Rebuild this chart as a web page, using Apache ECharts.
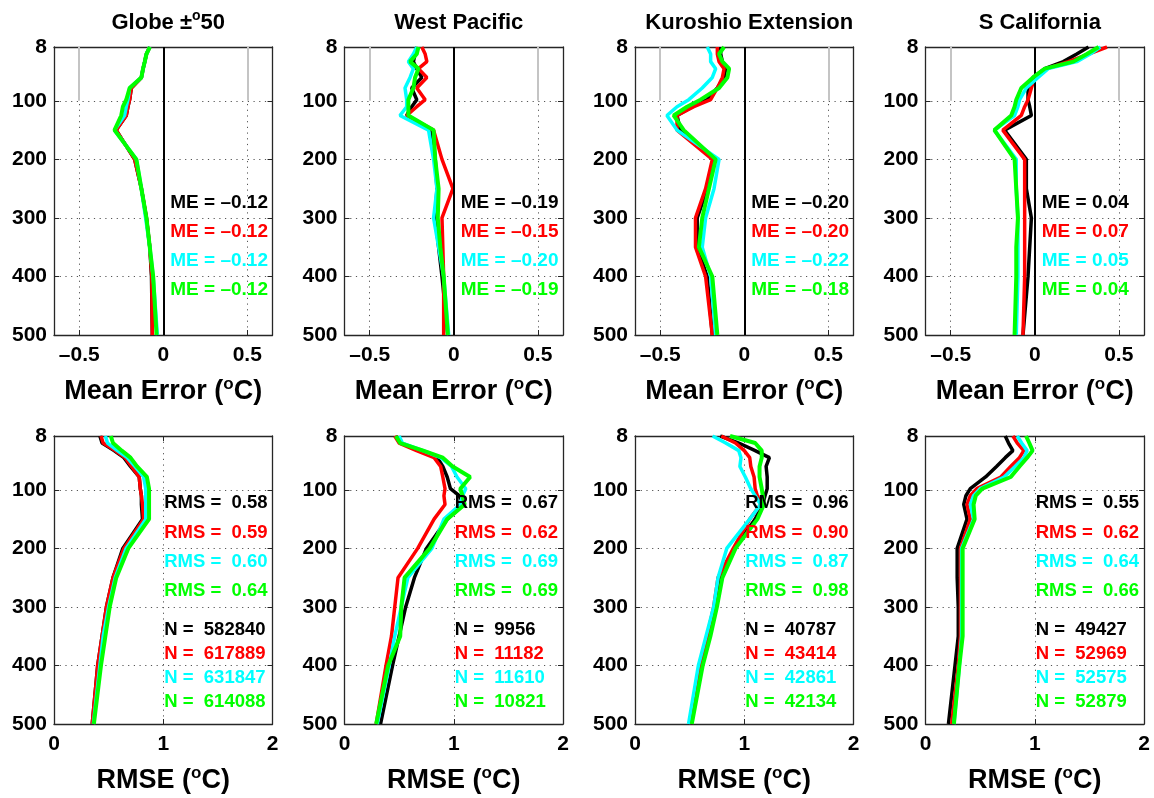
<!DOCTYPE html>
<html>
<head>
<meta charset="utf-8">
<title>Mean error and RMSE profiles</title>
<script src="https://cdn.jsdelivr.net/npm/echarts@6/dist/echarts.min.js"></script>
<style>
  html, body { margin: 0; padding: 0; background: #fff; }
  #main { width: 1154px; height: 798px; }
</style>
</head>
<body>
<div id="main"></div>
<script>
// depth levels (m) shared by all profiles
const depths = [8, 20, 33, 45, 60, 78, 98, 110, 125, 150, 200, 250, 300, 350, 400, 500];
const depthTicks = [8, 100, 200, 300, 400, 500];
const meTicks = [-0.5, 0, 0.5];
const rmseTicks = [0, 1, 2];
const lineColors = ['#000000', '#ff0000', '#00ffff', '#00ff00'];

// mean error profiles (black, red, cyan, green)
const meGlobe = [
  [-0.08, -0.10, -0.11, -0.12, -0.13, -0.19, -0.20, -0.21, -0.22, -0.28, -0.17, -0.13, -0.10, -0.08, -0.07, -0.065],
  [-0.08, -0.10, -0.11, -0.12, -0.13, -0.19, -0.20, -0.21, -0.22, -0.28, -0.17, -0.13, -0.10, -0.08, -0.068, -0.065],
  [-0.08, -0.10, -0.11, -0.12, -0.13, -0.20, -0.21, -0.22, -0.23, -0.29, -0.16, -0.13, -0.105, -0.08, -0.06, -0.035],
  [-0.08, -0.10, -0.11, -0.12, -0.13, -0.20, -0.22, -0.24, -0.25, -0.29, -0.16, -0.13, -0.10, -0.08, -0.06, -0.04]
];
const meWestPacific = [
  [-0.22, -0.23, -0.24, -0.22, -0.19, -0.25, -0.22, -0.25, -0.28, -0.13, -0.11, -0.10, -0.11, -0.09, -0.07, -0.035],
  [-0.19, -0.17, -0.16, -0.21, -0.16, -0.22, -0.17, -0.22, -0.28, -0.12, -0.07, -0.005, -0.07, -0.065, -0.06, -0.06],
  [-0.22, -0.24, -0.27, -0.24, -0.26, -0.29, -0.28, -0.28, -0.32, -0.15, -0.12, -0.10, -0.12, -0.09, -0.06, -0.03],
  [-0.21, -0.22, -0.26, -0.21, -0.23, -0.24, -0.27, -0.27, -0.27, -0.12, -0.11, -0.09, -0.095, -0.08, -0.06, -0.035]
];
const meKuroshio = [
  [-0.14, -0.14, -0.13, -0.11, -0.12, -0.16, -0.22, -0.31, -0.40, -0.38, -0.18, -0.22, -0.28, -0.28, -0.22, -0.19],
  [-0.16, -0.16, -0.15, -0.12, -0.13, -0.16, -0.20, -0.30, -0.40, -0.40, -0.19, -0.23, -0.29, -0.29, -0.23, -0.19],
  [-0.22, -0.20, -0.20, -0.17, -0.19, -0.25, -0.33, -0.40, -0.46, -0.40, -0.15, -0.18, -0.23, -0.25, -0.20, -0.17],
  [-0.12, -0.15, -0.13, -0.09, -0.10, -0.15, -0.26, -0.34, -0.42, -0.36, -0.17, -0.21, -0.25, -0.27, -0.19, -0.16]
];
const meSCalifornia = [
  [0.32, 0.25, 0.17, 0.06, -0.01, -0.04, -0.04, -0.03, -0.02, -0.18, -0.05, -0.05, -0.02, -0.03, -0.04, -0.07],
  [0.43, 0.32, 0.20, 0.07, 0.00, -0.02, -0.04, -0.06, -0.08, -0.19, -0.06, -0.06, -0.06, -0.06, -0.06, -0.07],
  [0.39, 0.33, 0.25, 0.08, 0.02, -0.05, -0.09, -0.10, -0.12, -0.24, -0.11, -0.11, -0.10, -0.10, -0.10, -0.11],
  [0.38, 0.31, 0.23, 0.06, -0.01, -0.08, -0.11, -0.12, -0.14, -0.24, -0.12, -0.11, -0.10, -0.11, -0.11, -0.12]
];

// RMSE profiles (black, red, cyan, green)
const rmseGlobe = [
  [0.42, 0.44, 0.55, 0.64, 0.70, 0.78, 0.79, 0.80, 0.80, 0.81, 0.63, 0.54, 0.48, 0.44, 0.40, 0.35],
  [0.43, 0.45, 0.56, 0.65, 0.71, 0.78, 0.79, 0.80, 0.81, 0.82, 0.64, 0.54, 0.48, 0.44, 0.40, 0.35],
  [0.47, 0.49, 0.58, 0.67, 0.74, 0.82, 0.84, 0.84, 0.84, 0.84, 0.66, 0.56, 0.50, 0.45, 0.42, 0.36],
  [0.52, 0.54, 0.62, 0.70, 0.76, 0.85, 0.87, 0.87, 0.87, 0.87, 0.68, 0.57, 0.51, 0.47, 0.43, 0.365]
];
const rmseWestPacific = [
  [0.47, 0.52, 0.70, 0.85, 0.90, 0.94, 0.97, 1.05, 1.09, 0.94, 0.75, 0.64, 0.56, 0.50, 0.44, 0.33],
  [0.46, 0.50, 0.66, 0.82, 0.88, 0.90, 0.92, 0.91, 0.92, 0.82, 0.67, 0.49, 0.46, 0.43, 0.38, 0.29],
  [0.50, 0.53, 0.72, 0.88, 0.98, 1.03, 1.11, 1.08, 1.06, 0.91, 0.80, 0.58, 0.52, 0.46, 0.41, 0.30],
  [0.47, 0.51, 0.72, 0.90, 0.99, 1.15, 1.06, 1.08, 1.10, 0.94, 0.78, 0.55, 0.52, 0.51, 0.40, 0.29]
];
const rmseKuroshio = [
  [0.78, 0.95, 1.10, 1.23, 1.20, 1.21, 1.21, 1.19, 1.17, 1.10, 0.91, 0.78, 0.74, 0.67, 0.60, 0.51],
  [0.79, 0.92, 1.00, 1.05, 1.06, 1.09, 1.10, 1.12, 1.15, 1.05, 0.90, 0.76, 0.72, 0.66, 0.59, 0.51],
  [0.71, 0.83, 0.95, 0.97, 0.96, 1.01, 1.06, 1.10, 1.15, 1.05, 0.84, 0.76, 0.72, 0.65, 0.58, 0.49],
  [0.87, 1.10, 1.16, 1.16, 1.14, 1.14, 1.16, 1.17, 1.18, 1.12, 0.92, 0.80, 0.75, 0.69, 0.62, 0.52]
];
const rmseSCalifornia = [
  [0.73, 0.76, 0.80, 0.73, 0.65, 0.55, 0.41, 0.37, 0.35, 0.38, 0.29, 0.29, 0.30, 0.30, 0.27, 0.21],
  [0.80, 0.84, 0.90, 0.86, 0.78, 0.69, 0.47, 0.41, 0.38, 0.41, 0.32, 0.32, 0.32, 0.32, 0.30, 0.24],
  [0.84, 0.88, 0.93, 0.90, 0.82, 0.72, 0.50, 0.44, 0.41, 0.44, 0.33, 0.33, 0.33, 0.33, 0.31, 0.26],
  [0.92, 0.95, 0.98, 0.93, 0.86, 0.78, 0.52, 0.46, 0.44, 0.45, 0.34, 0.34, 0.34, 0.34, 0.31, 0.26]
];

// summary numbers printed in each panel
const meStats = [
  ['–0.12', '–0.12', '–0.12', '–0.12'],
  ['–0.19', '–0.15', '–0.20', '–0.19'],
  ['–0.20', '–0.20', '–0.22', '–0.18'],
  ['0.04', '0.07', '0.05', '0.04']
];
const rmsStats = [
  ['0.58', '0.59', '0.60', '0.64'],
  ['0.67', '0.62', '0.69', '0.69'],
  ['0.96', '0.90', '0.87', '0.98'],
  ['0.55', '0.62', '0.64', '0.66']
];
const nStats = [
  ['582840', '617889', '631847', '614088'],
  ['9956', '11182', '11610', '10821'],
  ['40787', '43414', '42861', '42134'],
  ['49427', '52969', '52575', '52879']
];

const meProfiles = [meGlobe, meWestPacific, meKuroshio, meSCalifornia];
const rmseProfiles = [rmseGlobe, rmseWestPacific, rmseKuroshio, rmseSCalifornia];

const FONT = '"Liberation Sans", Arial, Helvetica, sans-serif';
const BOX = '#262626';
const GRIDC = '#555555';
const colLeft = [54, 344.5, 635, 925.5];
const panelW = 218.5;
const rowTop = [47, 436];
const panelH = 288;

const chart = echarts.init(document.getElementById('main'));

const grids = [];
const xAxes = [];
const yAxes = [];
const series = [];
const graphics = [];

const tickFmt = (v) => (v < 0 ? '–' + Math.abs(v) : String(v));
const nameRich = {
  a: { fontFamily: FONT, fontWeight: 'bold', fontSize: 27, color: '#000', lineHeight: 32 },
  s: { fontFamily: FONT, fontWeight: 'bold', fontSize: 17, color: '#000', verticalAlign: 'top', lineHeight: 18 }
};
const boxLine = { show: true, onZero: false, lineStyle: { color: BOX, width: 1.3 } };

for (let row = 0; row < 2; row++) {
  for (let col = 0; col < 4; col++) {
    const g = grids.length;
    const isMe = row === 0;
    grids.push({ left: colLeft[col], top: rowTop[row], width: panelW, height: panelH, show: false });

    const xMin = isMe ? -0.65 : 0;
    const xMax = isMe ? 0.65 : 2;
    const xTicks = isMe ? meTicks : rmseTicks;

    // bottom x axis with labels and grid
    xAxes.push({
      type: 'value', gridIndex: g, position: 'bottom', min: xMin, max: xMax,
      name: isMe ? '{a|Mean Error (}{s|o}{a|C)}' : '{a|RMSE (}{s|o}{a|C)}',
      nameLocation: 'middle', nameGap: 41,
      nameTextStyle: { rich: nameRich },
      axisLine: boxLine,
      axisTick: { show: true, inside: true, length: 5, customValues: xTicks, lineStyle: { color: BOX } },
      axisLabel: {
        customValues: xTicks, formatter: tickFmt, margin: 10,
        fontFamily: FONT, fontWeight: 'bold', fontSize: 21, color: '#000'
      },
      splitLine: { show: true, lineStyle: { color: GRIDC, width: 1, type: [1.2, 4.5] } }
    });
    // top mirror axis (box + ticks)
    xAxes.push({
      type: 'value', gridIndex: g, position: 'top', min: xMin, max: xMax,
      axisLine: boxLine,
      axisTick: { show: true, inside: true, length: 5, customValues: xTicks, lineStyle: { color: BOX } },
      axisLabel: { show: false },
      splitLine: { show: false }
    });
    // left depth axis
    yAxes.push({
      type: 'value', gridIndex: g, position: 'left', inverse: true, min: 8, max: 500,
      axisLine: boxLine,
      axisTick: { show: true, inside: true, length: 5, customValues: depthTicks, lineStyle: { color: BOX } },
      axisLabel: {
        customValues: depthTicks, margin: 7,
        fontFamily: FONT, fontWeight: 'bold', fontSize: 21, color: '#000'
      },
      splitLine: { show: true, lineStyle: { color: GRIDC, width: 1, type: [1.2, 4.5] } }
    });
    // right mirror axis
    yAxes.push({
      type: 'value', gridIndex: g, position: 'right', inverse: true, min: 8, max: 500,
      axisLine: boxLine,
      axisTick: { show: true, inside: true, length: 5, customValues: depthTicks, lineStyle: { color: BOX } },
      axisLabel: { show: false },
      splitLine: { show: false }
    });

    const profiles = isMe ? meProfiles[col] : rmseProfiles[col];
    profiles.forEach((vals, k) => {
      const s = {
        type: 'line', xAxisIndex: 2 * g, yAxisIndex: 2 * g,
        data: depths.map((d, i) => [vals[i], d]),
        showSymbol: false, symbol: 'none', silent: true,
        lineStyle: { color: lineColors[k], width: k === 3 ? 4 : 3.5 },
        itemStyle: { color: lineColors[k] },
        animation: false, z: 3 + k
      };
      if (isMe && k === 0) {
        s.markLine = {
          symbol: 'none', silent: true, animation: false,
          label: { show: false },
          data: [
            { xAxis: 0, lineStyle: { color: '#000', width: 2, type: 'solid' } },
            [{ coord: [-0.5, 8], lineStyle: { color: '#c4c4c4', width: 2, type: 'solid' } }, { coord: [-0.5, 100] }],
            [{ coord: [0.5, 8], lineStyle: { color: '#c4c4c4', width: 2, type: 'solid' } }, { coord: [0.5, 100] }]
          ]
        };
      }
      series.push(s);
    });

    // stat annotations
    const left = colLeft[col];
    const top = rowTop[row];
    const txt = (text, x, y, color, size) => ({
      type: 'text', x: x, y: y, silent: true, z: 100,
      style: { text: text, fill: color, font: 'bold ' + size + 'px ' + FONT, verticalAlign: 'middle', align: 'left' }
    });
    if (isMe) {
      const meY = [156, 185, 214, 243];
      for (let k = 0; k < 4; k++) {
        graphics.push(txt('ME = ' + meStats[col][k], left + panelW / 2 + 7, top + meY[k], lineColors[k], 19));
      }
    } else {
      const rmsY = [67, 97, 126, 155];
      const nY = [194, 218, 242, 266];
      for (let k = 0; k < 4; k++) {
        graphics.push(txt('RMS =  ' + rmsStats[col][k], left + panelW / 2 + 1, top + rmsY[k], lineColors[k], 18.5));
        graphics.push(txt('N =  ' + nStats[col][k], left + panelW / 2 + 1, top + nY[k], lineColors[k], 18.5));
      }
    }
  }
}

const titleStyle = {
  rich: {
    t: { fontFamily: FONT, fontWeight: 'bold', fontSize: 22, color: '#000', lineHeight: 28 },
    s: { fontFamily: FONT, fontWeight: 'bold', fontSize: 14, color: '#000', verticalAlign: 'top', lineHeight: 15 }
  }
};
const titleTexts = ['{t|Globe ±}{s|o}{t|50}', '{t|West Pacific}', '{t|Kuroshio Extension}', '{t|S California}'];
const titles = titleTexts.map((t, col) => ({
  text: t, left: colLeft[col] + panelW / 2, top: 4, textAlign: 'center', textStyle: titleStyle
}));

chart.setOption({
  backgroundColor: '#fff',
  animation: false,
  title: titles,
  grid: grids,
  xAxis: xAxes,
  yAxis: yAxes,
  series: series,
  graphic: graphics
});
</script>
</body>
</html>
